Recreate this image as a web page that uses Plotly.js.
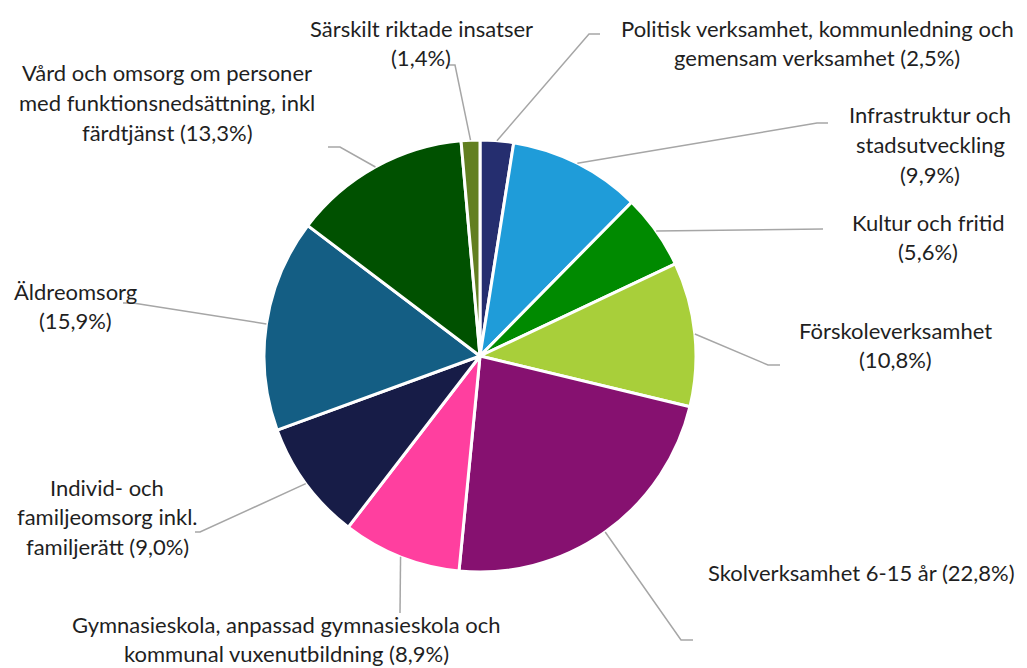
<!DOCTYPE html>
<html><head><meta charset="utf-8">
<script src="https://cdn.plot.ly/plotly-3.0.1.min.js"></script>
<style>html,body{margin:0;padding:0;background:#fff}#chart{width:1027px;height:668px}</style>
</head><body><div id="chart"></div>
<script>
// ---- data ----
const categories = [
  "Politisk verksamhet, kommunledning och gemensam verksamhet",
  "Infrastruktur och stadsutveckling",
  "Kultur och fritid",
  "Förskoleverksamhet",
  "Skolverksamhet 6-15 år",
  "Gymnasieskola, anpassad gymnasieskola och kommunal vuxenutbildning",
  "Individ- och familjeomsorg inkl. familjerätt",
  "Äldreomsorg",
  "Vård och omsorg om personer med funktionsnedsättning, inkl färdtjänst",
  "Särskilt riktade insatser"
];
const values = [2.5, 9.9, 5.6, 10.8, 22.8, 8.9, 9.0, 15.9, 13.3, 1.4];
const labelLines = [
  ["Politisk verksamhet, kommunledning och", "gemensam verksamhet (2,5%)"],
  ["Infrastruktur och", "stadsutveckling", "(9,9%)"],
  ["Kultur och fritid", "(5,6%)"],
  ["Förskoleverksamhet", "(10,8%)"],
  ["Skolverksamhet 6-15 år (22,8%)"],
  ["Gymnasieskola, anpassad gymnasieskola och", "kommunal vuxenutbildning (8,9%)"],
  ["Individ- och", "familjeomsorg inkl.", "familjerätt (9,0%)"],
  ["Äldreomsorg", "(15,9%)"],
  ["Vård och omsorg om personer", "med funktionsnedsättning, inkl", "färdtjänst (13,3%)"],
  ["Särskilt riktade insatser", "(1,4%)"]
];
const colors = ["#252e6f","#1f9cd9","#008a00","#a8cf3a","#861170","#ff3f9f","#171c47","#145e84","#005100","#627f21"];

// ---- layout (pixels) ----
const W = 1027, H = 668;
const CX = 480, CY = 356, R = 216;
const labelPos = [ // [centerX, firstLineY]
  [817, 28], [930, 115], [928, 222], [895, 330], [861, 572],
  [286, 624], [107, 487], [75, 291], [167, 73], [421, 28]
];
const lineH = 29.5;
const leaderElbow = [
  [589,34],[817,123],[823,229],[768,365],[681,640],[400,613],[200,532],[133,303],[340,147],[455,65]
];
const leaderEnd = [
  [600,34],[828,123],[823,229],[780,365],[693,640],[400,613],[195,532],[123,303],[328,147],[449,65]
];

const px = x => x / W, py = y => 1 - y / H;
const total = values.reduce((a,b)=>a+b,0);

const annotations = [];
const shapes = [];
let cum = 0;
values.forEach((v,i)=>{
  const mid = (cum + v/2) / total * 2 * Math.PI;
  cum += v;
  const sx = CX + R * Math.sin(mid), sy = CY - R * Math.cos(mid);
  const [ex, ey] = leaderElbow[i], [tx, ty] = leaderEnd[i];
  shapes.push({type:'path', xref:'paper', yref:'paper',
    path:`M ${px(sx)} ${py(sy)} L ${px(ex)} ${py(ey)} L ${px(tx)} ${py(ty)}`,
    line:{color:'#a6a6a6', width:1.5}});
  labelLines[i].forEach((t,k)=>{
    annotations.push({xref:'paper', yref:'paper', x:px(labelPos[i][0]), y:py(labelPos[i][1] + k*lineH),
      xanchor:'center', yanchor:'middle', text:t, showarrow:false,
      font:{family:'Lato, sans-serif', size:22, color:'#1f1f1f'}});
  });
});

const trace = {
  type:'pie', values: values, labels: categories, sort:false, direction:'clockwise', rotation:0,
  textinfo:'none', hoverinfo:'label+percent',
  marker:{colors: colors, line:{color:'#ffffff', width:3}},
  domain:{x:[px(CX-R), px(CX+R)], y:[py(CY+R), py(CY-R)]}
};

Plotly.newPlot('chart', [trace], {
  width:W, height:H, margin:{l:0,r:0,t:0,b:0}, showlegend:false,
  paper_bgcolor:'#ffffff', annotations: annotations, shapes: shapes
}, {displayModeBar:false, staticPlot:true});
</script></body></html>
